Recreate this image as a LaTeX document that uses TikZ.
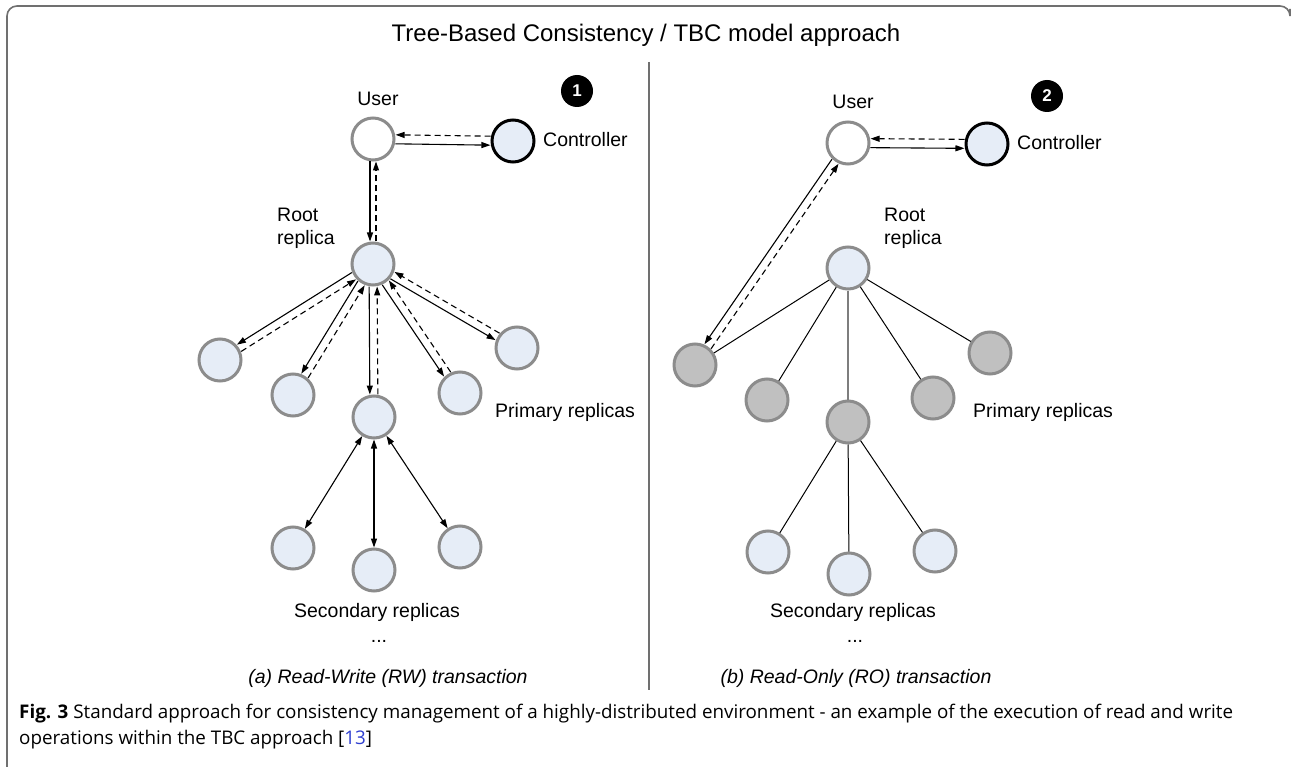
\documentclass[tikz,border=0pt]{standalone}
\usepackage{fontspec}
\setmainfont{Liberation Sans}
\newfontfamily\capfont{Open Sans}
\usetikzlibrary{arrows.meta,calc}

\definecolor{ringgray}{HTML}{8C8C8C}
\definecolor{paleblue}{HTML}{E6EDF7}
\definecolor{shadegray}{HTML}{C0C0C0}
\definecolor{framegray}{HTML}{707070}
\definecolor{citeblue}{HTML}{2F3FD0}

% request (solid) and response (dashed) running side by side between two nodes
\newcommand\duplex[3]{%
  \draw[req]  ($(#1)!#3!-90:(#2)$) -- ($(#2)!#3!90:(#1)$);
  \draw[resp] ($(#2)!#3!-90:(#1)$) -- ($(#1)!#3!90:(#2)$);}

\begin{document}
\begin{tikzpicture}[x=1pt,y=-1pt,
  replica/.style={circle,draw=ringgray,fill=paleblue,line width=3pt,minimum size=42pt,inner sep=0pt},
  visited/.style={replica,fill=shadegray},
  client/.style={replica,fill=white},
  ctrl/.style={replica,draw=black},
  badge/.style={circle,fill=black,minimum size=32pt,inner sep=0pt,text=white,font=\fontsize{17}{17}\selectfont\bfseries},
  lbl/.style={font=\fontsize{19.5}{23}\selectfont,inner sep=0pt},
  sub/.style={font=\fontsize{19.5}{23}\selectfont\itshape,inner sep=0pt},
  req/.style={line width=1.1pt,-{Triangle[length=9pt,width=6pt]},shorten <=22.5pt,shorten >=22.5pt},
  resp/.style={req,dash pattern=on 6pt off 4pt},
  both/.style={line width=1.1pt,{Triangle[length=9pt,width=6pt]}-{Triangle[length=9pt,width=6pt]}},
  edge/.style={line width=1pt},
  trunk/.style={line width=2pt,draw=ringgray!90!black},
  captext/.style={anchor=west,inner sep=0pt,font=\capfont\fontsize{18.8}{22}\selectfont},
]
\useasboundingbox (0,0) rectangle (1292,767);

% outer frame and panel divider
\draw[framegray,line width=1.6pt,rounded corners=10pt] (1290,9) -- (1290,6) -- (7,6) -- (7,767);
\draw[framegray,line width=1.6pt] (649,62) -- (649,690);

\node[font=\fontsize{24}{27}\selectfont] (title) at (646,35) {Tree-Based Consistency / TBC model approach};

% ---------- (a) read-write transaction ----------
\node[client]  (lU)  at (373,139) {};
\node[ctrl]    (lC)  at (513,141) {};
\node[replica] (lR)  at (373,264) {};
\node[replica] (lP1) at (220,360) {};
\node[replica] (lP2) at (293,395) {};
\node[replica] (lP3) at (374,417) {};
\node[replica] (lP4) at (460,393) {};
\node[replica] (lP5) at (517,348) {};
\node[replica] (lS1) at (293,548) {};
\node[replica] (lS2) at (374,570) {};
\node[replica] (lS3) at (460,547) {};
\node[badge]   (lB)  at (577,91) {1};

\node[lbl] (lUl) at (378,99) {User};
\node[lbl,anchor=west] (lCl) at (543,140) {Controller};
\node[lbl,anchor=west,align=left] (lRl) at (277,228) {Root\\replica};
\node[lbl,anchor=west] (lPl) at (495,412) {Primary replicas};
\node[lbl] (lSl) at (377,612) {Secondary replicas};
\node[lbl,anchor=base] (lDots) at (379,642) {...};
\node[sub] (lT) at (388,678) {(a) Read-Write (RW) transaction};

\duplex{lU}{lC}{4.5pt}
\duplex{lU}{lR}{3pt}
\duplex{lR}{lP1}{4pt}
\duplex{lR}{lP2}{4pt}
\duplex{lR}{lP3}{4pt}
\duplex{lR}{lP4}{4pt}
\duplex{lR}{lP5}{4pt}
\draw[both] (lP3) -- (lS1);
\draw[both] (lP3) -- (lS2);
\draw[both] (lP3) -- (lS3);

% ---------- (b) read-only transaction ----------
\node[client]  (rU)  at (848,143) {};
\node[ctrl]    (rC)  at (987,144) {};
\node[replica] (rR)  at (848,268) {};
\node[visited] (rP1) at (695,365) {};
\node[visited] (rP2) at (767,400) {};
\node[visited] (rP3) at (848,422) {};
\node[visited] (rP4) at (933,398) {};
\node[visited] (rP5) at (990,353) {};
\node[replica] (rS1) at (768,552) {};
\node[replica] (rS2) at (849,574) {};
\node[replica] (rS3) at (935,551) {};
\node[badge]   (rB)  at (1047,96) {2};

\node[lbl] (rUl) at (853,102) {User};
\node[lbl,anchor=west] (rCl) at (1017,143) {Controller};
\node[lbl,anchor=west,align=left] (rRl) at (884,228) {Root\\replica};
\node[lbl,anchor=west] (rPl) at (973,412) {Primary replicas};
\node[lbl] (rSl) at (853,612) {Secondary replicas};
\node[lbl,anchor=base] (rDots) at (855,642) {...};
\node[sub] (rT) at (856,678) {(b) Read-Only (RO) transaction};

\duplex{rU}{rC}{4.5pt}
\duplex{rU}{rP1}{4pt}
\draw[edge] (rR) -- (rP1);
\draw[edge] (rR) -- (rP2);
\draw[trunk] (rR) -- (rP3);
\draw[edge] (rR) -- (rP4);
\draw[edge] (rR) -- (rP5);
\draw[edge] (rP3) -- (rS1);
\draw[edge] (rP3) -- (rS2);
\draw[edge] (rP3) -- (rS3);

% caption
\node[captext] (cap1) at (19,714)
  {\textbf{Fig. 3} Standard approach for consistency management of a highly-distributed environment - an example of the execution of read and write};
\node[captext] (cap2) at (19,740)
  {operations within the TBC approach [{\color{citeblue}13}]};
\end{tikzpicture}
\end{document}
